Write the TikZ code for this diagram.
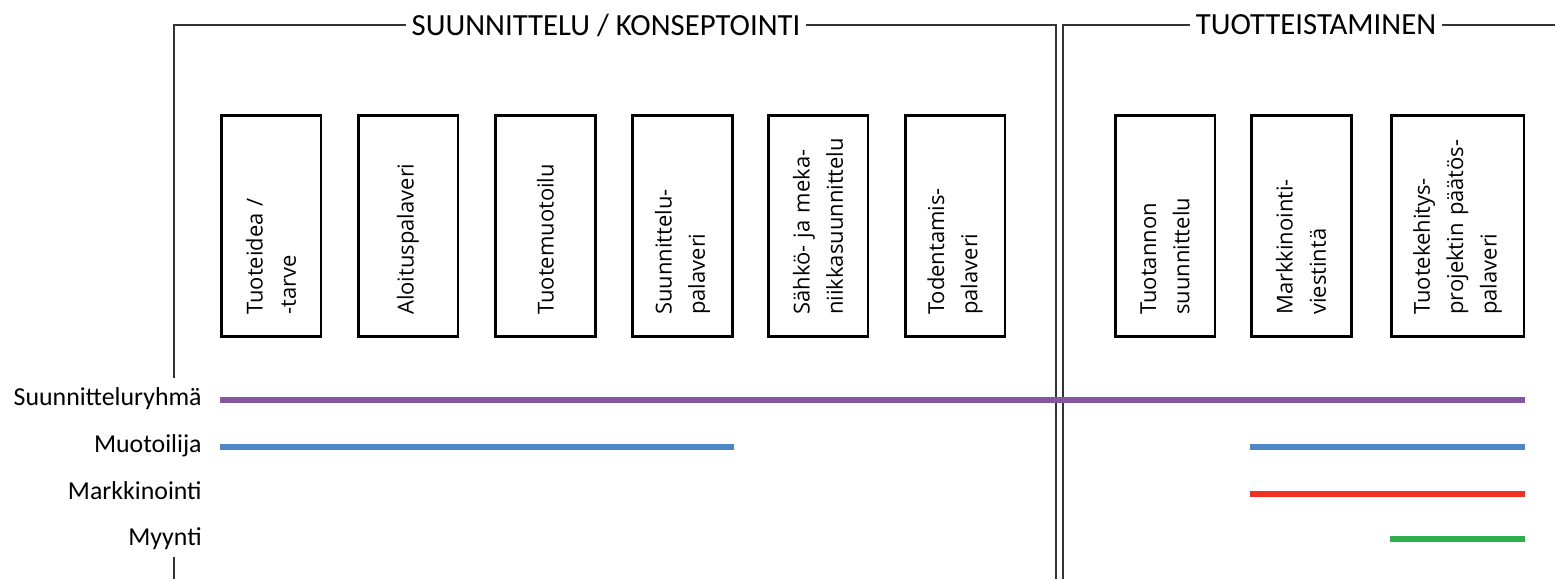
\documentclass[tikz,border=0pt]{standalone}
\usepackage{fontspec}
\setmainfont{Carlito}
\newfontfamily\boxfont{Open Sans}
\usepackage{xcolor}
\usepackage{tikz}
\usetikzlibrary{positioning}
\definecolor{ryhmacol}{RGB}{136,85,160}
\definecolor{muotocol}{RGB}{79,134,198}
\definecolor{markkcol}{RGB}{238,49,36}
\definecolor{myyntcol}{RGB}{45,176,75}
\tikzstyle{phase}=[inner xsep=0.1cm,font=\fontsize{17.5}{21}\selectfont]
\tikzstyle{task}=[draw,line width=1.7pt,rectangle,rotate=90,minimum width=4.44cm,
minimum height=2cm,text width=3.55cm,align=left,inner sep=0pt,
font=\boxfont\fontsize{12.5}{19}\selectfont]
\tikzstyle{role}=[anchor=base east,inner sep=0pt,font=\fontsize{14.7}{17}\selectfont]
\tikzstyle{frame}=[draw,line width=0.75pt,black!80]
\tikzstyle{bar}=[draw,line width=3.3pt]

\begin{document}
\begin{tikzpicture}[x=0.02cm,y=-0.02cm]
\useasboundingbox (0,0) rectangle (1555,579);

	\node[phase] (suun) at (606,25) {SUUNNITTELU / KONSEPTOINTI};
	\node[phase] (tuot) at (1316,25) {TUOTTEISTAMINEN};

	\coordinate (f1gap1) at (174,378);
	\coordinate (f1gap2) at (174,557);
	\coordinate (f1bot) at (174,579);
	\coordinate (f1tl) at (174,25);
	\coordinate (f1tr) at (1056,25);
	\coordinate (f1br) at (1056,579);
	\coordinate (f2bl) at (1063,579);
	\coordinate (f2tl) at (1063,25);
	\coordinate (f2tr) at (1555,25);

	\path[draw,frame] (f1gap1) -- (f1tl) -- (suun.west);
	\path[draw,frame] (suun.east) -- (f1tr) -- (f1br);
	\path[draw,frame] (f1gap2) -- (f1bot);
	\path[draw,frame] (f2bl) -- (f2tl) -- (tuot.west);
	\path[draw,frame] (tuot.east) -- (f2tr);

% % % suunnittelu / konseptointi
	\node[task] (idea) at (271,226) {Tuoteidea /\\-tarve};
	\node[task] (aloit) at (408,226) {Aloituspalaveri};
	\node[task] (muoto) at (545.5,226) {Tuotemuotoilu};
	\node[task] (spal) at (682.5,226) {Suunnittelu-\\palaveri};
	\node[task] (sahko) at (818,226) {Sähkö- ja meka-\\niikkasuunnittelu};
	\node[task] (toden) at (955,226) {Todentamis-\\palaveri};

% % % tuotteistaminen
	\node[task] (tuotan) at (1165,226) {Tuotannon\\suunnittelu};
	\node[task] (markv) at (1301,226) {Markkinointi-\\viestintä};
	\node[task,minimum height=2.66cm] (paatos) at (1457.5,226) {Tuotekehitys-\\projektin päätös-\\palaveri};

% % % roles
	\node[role] (ryhma) at (202,405.5) {Suunnitteluryhmä};
	\node[role] (muotoilija) at (202,452.5) {Muotoilija};
	\node[role] (markk) at (202,499) {Markkinointi};
	\node[role] (myynti) at (202,545.5) {Myynti};

	\coordinate (row1) at (0,400);
	\coordinate (row2) at (0,447);
	\coordinate (row3) at (0,494);
	\coordinate (row4) at (0,539);

	\path[draw,bar,ryhmacol] (idea.north |- row1) -- (paatos.south |- row1);
	\path[draw,bar,muotocol] (idea.north |- row2) -- (spal.south |- row2);
	\path[draw,bar,muotocol] (markv.north |- row2) -- (paatos.south |- row2);
	\path[draw,bar,markkcol] (markv.north |- row3) -- (paatos.south |- row3);
	\path[draw,bar,myyntcol] (paatos.north |- row4) -- (paatos.south |- row4);
\end{tikzpicture}
\end{document}
